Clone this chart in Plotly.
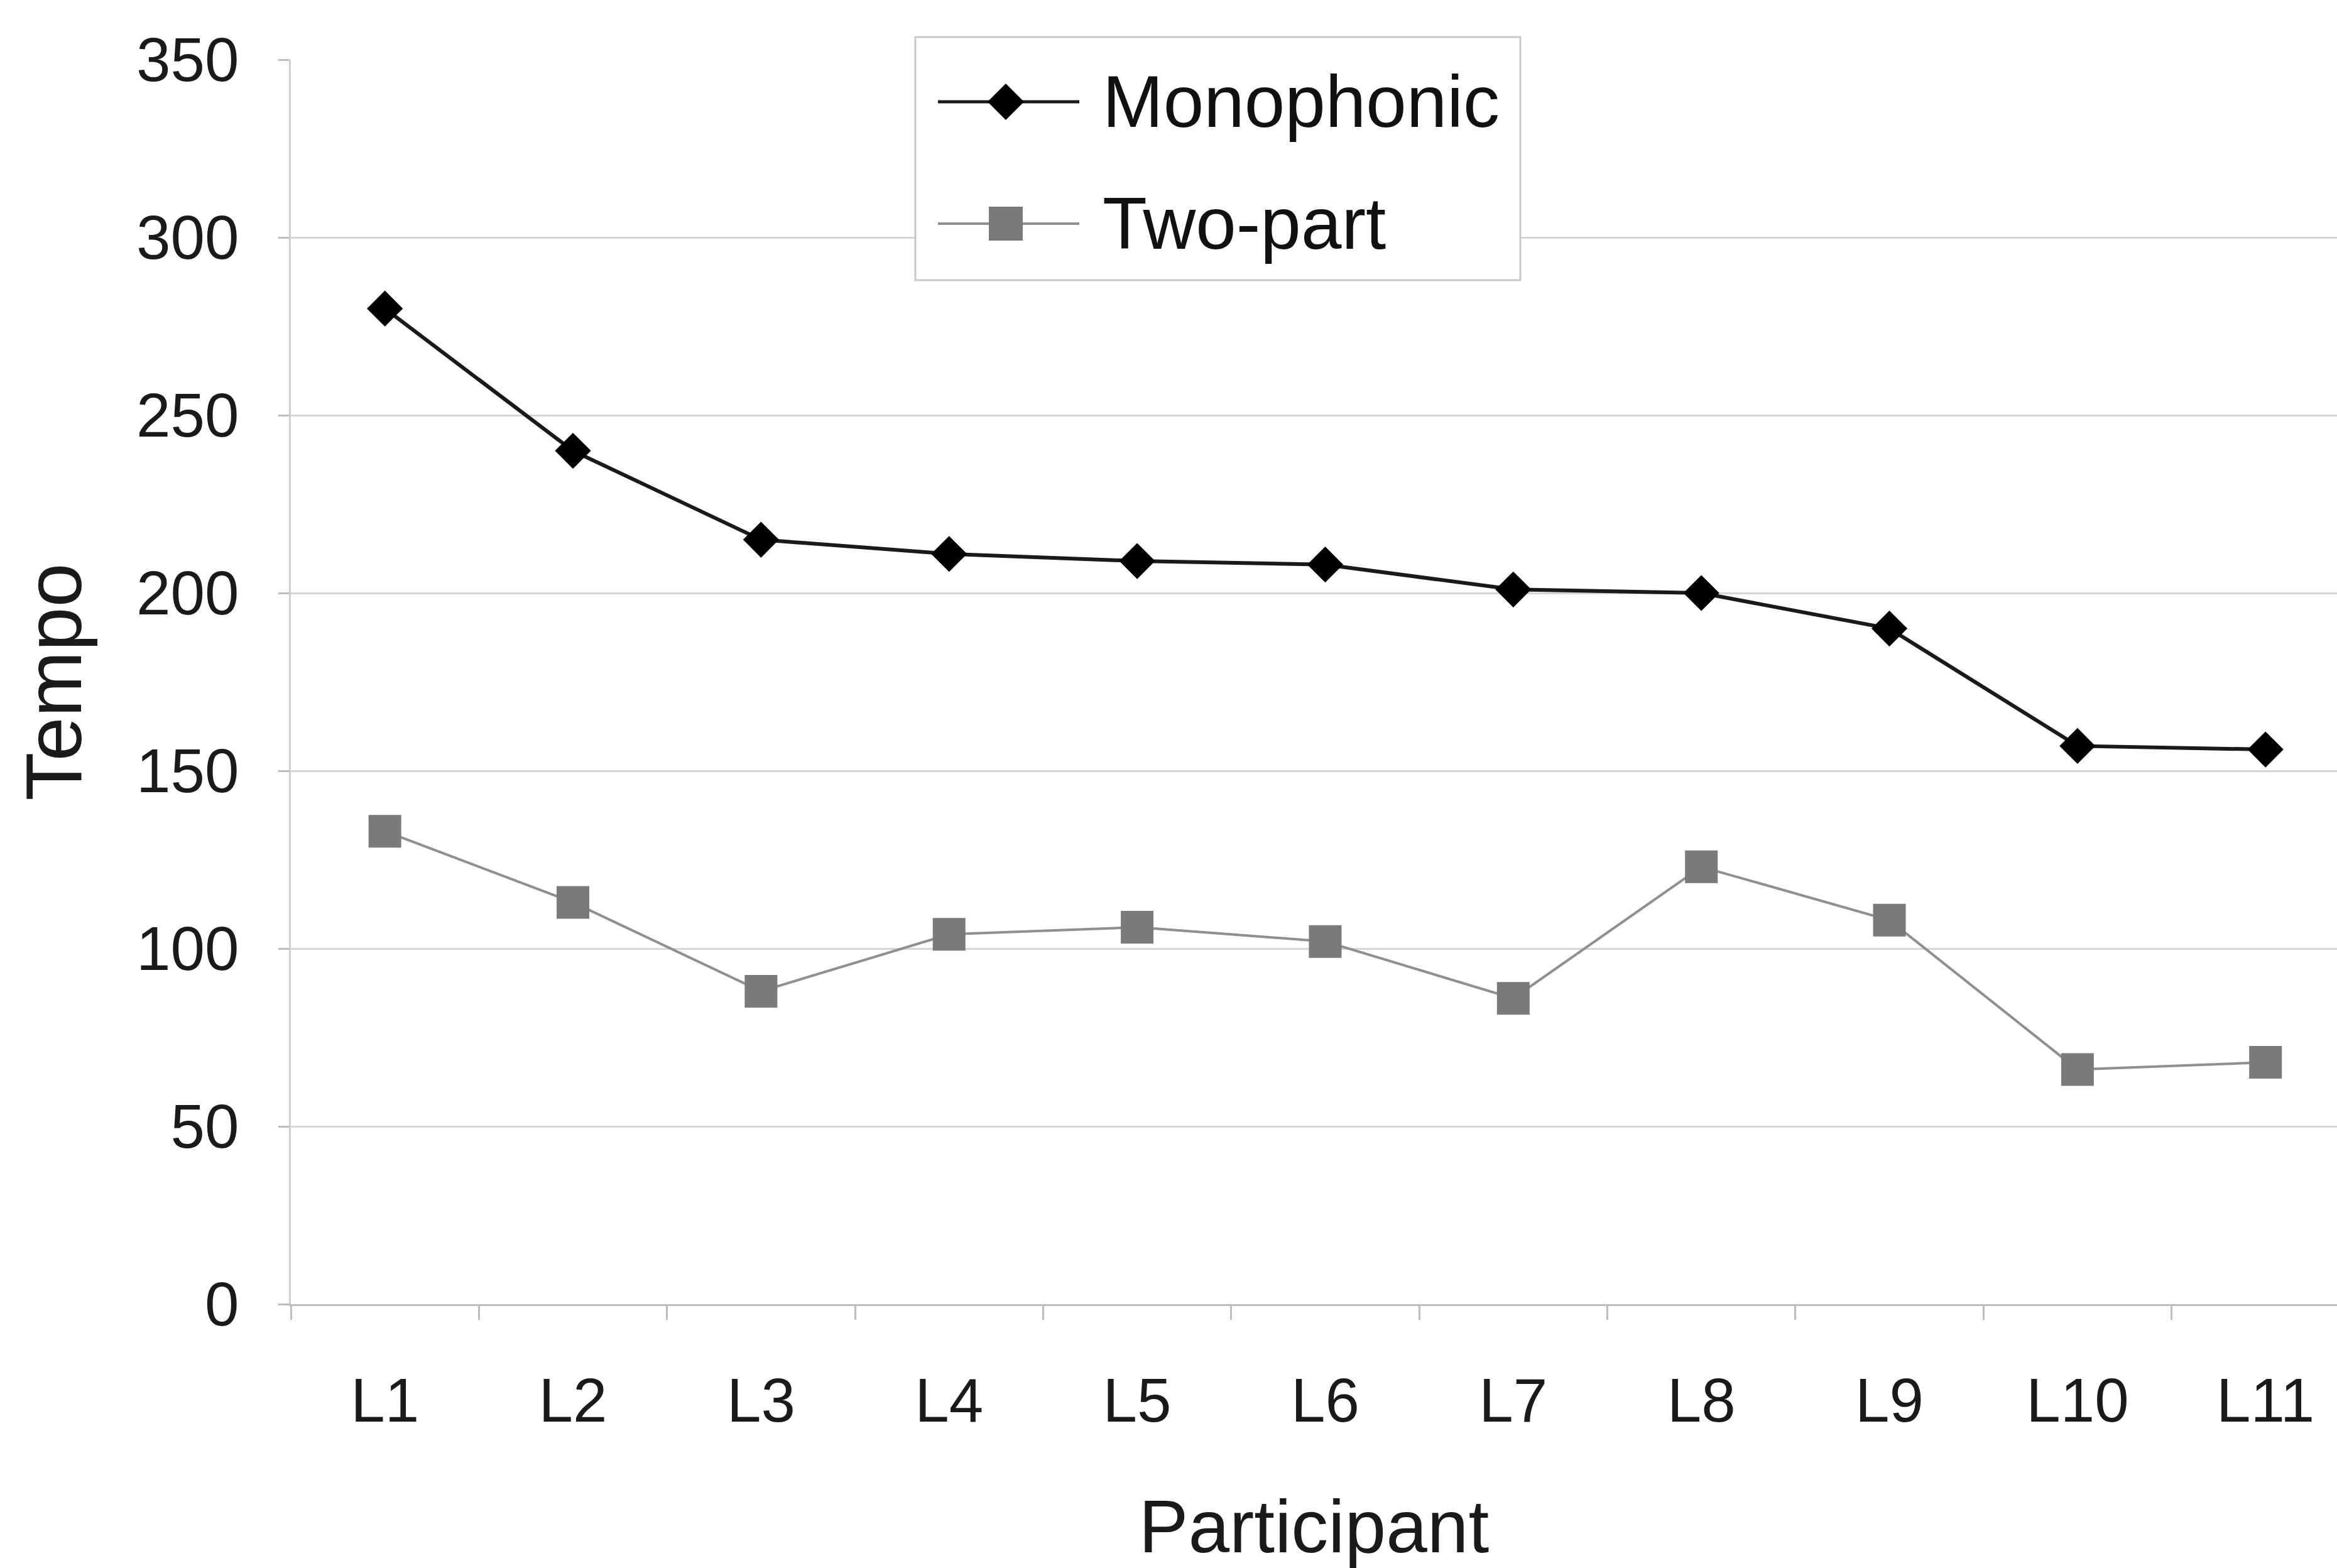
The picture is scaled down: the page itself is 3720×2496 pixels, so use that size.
import plotly.graph_objects as go

participants = ["L1", "L2", "L3", "L4", "L5", "L6", "L7", "L8", "L9", "L10", "L11"]
monophonic = [280, 240, 215, 211, 209, 208, 201, 200, 190, 157, 156]
two_part = [133, 113, 88, 104, 106, 102, 86, 123, 108, 66, 68]
y_ticks = [0, 50, 100, 150, 200, 250, 300, 350]
series_names = ["Monophonic", "Two-part"]

FONT = "Liberation Sans, Arial, sans-serif"
W, H = 3720, 2496
ML, MT, MB = 463, 95, 420
PLOT_W = W - ML
PLOT_H = H - MT - MB

MONO_LINE = "#1a1a1a"
MONO_MARK = "#000000"
TWO_LINE = "#8f8f8f"
TWO_MARK = "#7a7a7a"


def px(xp):
    return (xp - ML) / PLOT_W


def py(yp):
    return (H - MB - yp) / PLOT_H


fig = go.Figure()
fig.add_trace(go.Scatter(
    x=participants, y=monophonic, name=series_names[0], mode="lines+markers",
    line=dict(color=MONO_LINE, width=6),
    marker=dict(symbol="diamond", size=44, color=MONO_MARK),
    showlegend=False,
))
fig.add_trace(go.Scatter(
    x=participants, y=two_part, name=series_names[1], mode="lines+markers",
    line=dict(color=TWO_LINE, width=4),
    marker=dict(symbol="square", size=52, color=TWO_MARK),
    showlegend=False,
))

# ---- legend (drawn as a boxed key so that the symbols keep their full size) ----
box = dict(x0=1457, x1=2420, y0=59, y1=446)
rows = [162, 356]
line_x = (1493, 1718)
mark_cx = 1601
text_x = 1753

shapes = [dict(type="rect", xref="paper", yref="paper", layer="above",
               x0=px(box["x0"]), x1=px(box["x1"]), y0=py(box["y1"]), y1=py(box["y0"]),
               line=dict(color="#c8c8c8", width=3), fillcolor="white")]
shapes.append(dict(type="line", xref="paper", yref="paper", layer="above",
                   x0=px(line_x[0]), x1=px(line_x[1]), y0=py(rows[0]), y1=py(rows[0]),
                   line=dict(color=MONO_LINE, width=5)))
shapes.append(dict(type="line", xref="paper", yref="paper", layer="above",
                   x0=px(line_x[0]), x1=px(line_x[1]), y0=py(rows[1]), y1=py(rows[1]),
                   line=dict(color=TWO_LINE, width=4)))
dh = 29
diamond = "M {a},{b} L {c},{d} L {e},{f} L {g},{h} Z".format(
    a=px(mark_cx - dh), b=py(rows[0]),
    c=px(mark_cx), d=py(rows[0] - dh),
    e=px(mark_cx + dh), f=py(rows[0]),
    g=px(mark_cx), h=py(rows[0] + dh))
shapes.append(dict(type="path", xref="paper", yref="paper", layer="above", path=diamond,
                   fillcolor=MONO_MARK, line=dict(width=0)))
sh = 27
shapes.append(dict(type="rect", xref="paper", yref="paper", layer="above",
                   x0=px(mark_cx - sh), x1=px(mark_cx + sh),
                   y0=py(rows[1] + sh), y1=py(rows[1] - sh),
                   fillcolor=TWO_MARK, line=dict(width=0)))

annotations = []
for name, ry in zip(series_names, rows):
    annotations.append(dict(text=name, xref="paper", yref="paper", x=px(text_x), y=py(ry),
                            xanchor="left", yanchor="middle", showarrow=False,
                            font=dict(family=FONT, size=116, color="#111111")))

fig.update_layout(
    width=W, height=H,
    margin=dict(l=ML, r=0, t=MT, b=MB),
    paper_bgcolor="white", plot_bgcolor="white",
    font=dict(family=FONT, size=98, color="#1a1a1a"),
    showlegend=False,
    shapes=shapes,
    annotations=annotations,
    xaxis=dict(
        type="category", categoryorder="array", categoryarray=participants,
        range=[-0.5, 10.38],
        showgrid=False, showline=True, linecolor="#bdbdbd", linewidth=3,
        ticks="outside", tickson="boundaries", ticklen=22, tickwidth=3, tickcolor="#bdbdbd",
        tickfont=dict(family=FONT, size=98, color="#1a1a1a"),
        ticklabelstandoff=66,
        title=dict(text="Participant", font=dict(family=FONT, size=118, color="#1a1a1a"), standoff=125),
        zeroline=False,
    ),
    yaxis=dict(
        range=[0, 350], tickvals=y_ticks,
        showgrid=True, gridcolor="#d6d6d6", gridwidth=3,
        showline=True, linecolor="#cfcfcf", linewidth=3,
        ticks="outside", ticklen=17, tickwidth=3, tickcolor="#bdbdbd",
        tickfont=dict(family=FONT, size=98, color="#1a1a1a"),
        ticklabelstandoff=43,
        title=dict(text="Tempo", font=dict(family=FONT, size=126, color="#1a1a1a"), standoff=45),
        zeroline=False,
    ),
)

fig.write_html("out.html")
